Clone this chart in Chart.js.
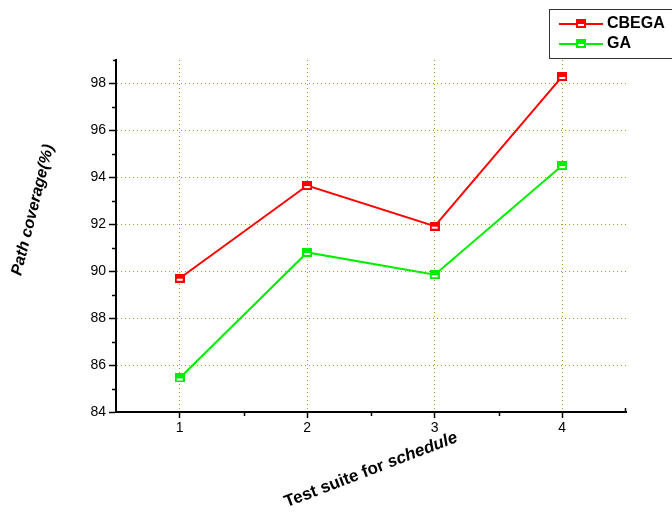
<!DOCTYPE html>
<html>
<head>
<meta charset="utf-8">
<script src="https://cdn.jsdelivr.net/npm/chart.js@4"></script>
<style>
  html, body { margin: 0; padding: 0; background: #fff; }
  #wrap { width: 672px; height: 518px; }
</style>
</head>
<body>
<div id="wrap"><canvas id="myChart" width="672" height="518"></canvas></div>
<script>
// data
const suites = [1, 2, 3, 4];
const cbega = [89.7, 93.65, 91.92, 98.3];
const ga = [85.45, 90.8, 89.85, 94.5];
const seriesNames = ['CBEGA', 'GA'];
const yTitle = 'Path coverage(%)';
const xTitle = 'Test suite for ';
const xTitleItalic = 'schedule';

const gridColor = '#a0a020';
const font = '"Liberation Sans", Arial, sans-serif';

// half filled square marker
const makeMarker = (color) => {
    let c = document.createElement('canvas');
    c.width = 10;
    c.height = 9;
    let g = c.getContext('2d');
    g.fillStyle = color;
    g.fillRect(0, 0, 10, 9);
    g.fillStyle = '#fff';
    g.fillRect(2, 5, 6, 2);
    return c;
};

const toPoints = (vals) => suites.map((s, i) => ({ x: s, y: vals[i] }));

const extras = {
    id: 'extras',
    afterDraw(chart) {
        const c = chart.ctx;
        const xs = chart.scales.x, ys = chart.scales.y;
        c.save();
        c.strokeStyle = '#000';
        c.lineWidth = 1.5;
        // minor ticks y
        for (let v = 85; v < 99; v += 2) {
            let y = Math.round(ys.getPixelForValue(v)) + 0.5;
            c.beginPath();
            c.moveTo(xs.left - 4, y);
            c.lineTo(xs.left, y);
            c.stroke();
        }
        // top cap of y axis
        c.beginPath();
        c.moveTo(xs.left - 3, ys.top + 0.5);
        c.lineTo(xs.left, ys.top + 0.5);
        c.stroke();
        // minor ticks x
        for (let v = 1.5; v < 4.5; v += 1) {
            let x = Math.round(xs.getPixelForValue(v)) + 0.5;
            c.beginPath();
            c.moveTo(x, ys.bottom);
            c.lineTo(x, ys.bottom + 4);
            c.stroke();
        }
        c.beginPath();
        c.moveTo(xs.right - 0.5, ys.bottom);
        c.lineTo(xs.right - 0.5, ys.bottom - 4);
        c.stroke();

        // axis titles
        c.fillStyle = '#000';
        c.save();
        c.translate(371, 470);
        c.rotate(-21 * Math.PI / 180);
        c.font = 'bold 17px ' + font;
        let w1 = c.measureText(xTitle).width;
        c.font = 'italic bold 17px ' + font;
        let w2 = c.measureText(xTitleItalic).width;
        let x0 = -(w1 + w2) / 2;
        c.textBaseline = 'middle';
        c.textAlign = 'left';
        c.font = 'bold 17px ' + font;
        c.fillText(xTitle, x0, 0);
        c.font = 'italic bold 17px ' + font;
        c.fillText(xTitleItalic, x0 + w1, 0);
        c.restore();

        c.save();
        c.translate(33, 210);
        c.rotate(-76 * Math.PI / 180);
        c.font = 'italic bold 16px ' + font;
        c.textAlign = 'center';
        c.textBaseline = 'middle';
        c.fillText(yTitle, 0, 0);
        c.restore();

        // legend box
        c.fillStyle = '#fff';
        c.fillRect(549.5, 9.5, 130, 49);
        c.strokeStyle = '#333';
        c.lineWidth = 1;
        c.strokeRect(549.5, 9.5, 130, 49);
        chart.data.datasets.forEach((ds, i) => {
            let y = 24 + i * 20;
            c.strokeStyle = ds.borderColor;
            c.lineWidth = 2;
            c.beginPath();
            c.moveTo(559, y);
            c.lineTo(603, y);
            c.stroke();
            c.drawImage(ds.pointStyle, 576, y - 5);
            c.fillStyle = '#000';
            c.font = 'bold 16px ' + font;
            c.textAlign = 'left';
            c.textBaseline = 'middle';
            c.fillText(ds.label, 607, y);
        });
        c.restore();
    }
};

const ctx = document.getElementById('myChart').getContext('2d');
new Chart(ctx, {
    type: 'line',
    data: {
        datasets: [{
            label: seriesNames[0],
            data: toPoints(cbega),
            borderColor: '#ff0000',
            backgroundColor: '#ff0000',
            borderWidth: 2,
            pointStyle: makeMarker('#ff0000'),
            fill: false
        }, {
            label: seriesNames[1],
            data: toPoints(ga),
            borderColor: '#00ee00',
            backgroundColor: '#00ee00',
            borderWidth: 2,
            pointStyle: makeMarker('#00ee00'),
            fill: false
        }]
    },
    options: {
        responsive: false,
        animation: false,
        layout: { padding: { left: 0, right: 46, top: 60, bottom: 0 } },
        plugins: {
            legend: { display: false },
            tooltip: { enabled: false }
        },
        scales: {
            x: {
                type: 'linear',
                min: 0.5,
                max: 4.5,
                afterFit: (s) => { s.height = 106; },
                ticks: {
                    stepSize: 0.5,
                    includeBounds: false,
                    color: '#000',
                    font: { family: font, size: 14 },
                    padding: 2,
                    maxRotation: 0,
                    callback: (v) => Number.isInteger(v) ? String(v) : ''
                },
                grid: {
                    color: (c) => Number.isInteger(c.tick && c.tick.value) ? gridColor : 'rgba(0,0,0,0)',
                    tickColor: (c) => Number.isInteger(c.tick && c.tick.value) ? '#000' : 'rgba(0,0,0,0)',
                    tickLength: 6,
                    lineWidth: 1,
                    tickWidth: 1.5
                },
                border: { color: '#000', width: 2, dash: [1, 3] }
            },
            y: {
                min: 84,
                max: 99,
                afterFit: (s) => { s.width = 116; },
                ticks: {
                    stepSize: 2,
                    includeBounds: false,
                    color: '#000',
                    font: { family: font, size: 14 },
                    padding: 3
                },
                grid: {
                    color: gridColor,
                    tickColor: '#000',
                    tickLength: 7,
                    lineWidth: 1,
                    tickWidth: 1.5
                },
                border: { color: '#000', width: 2, dash: [1, 3] }
            }
        }
    },
    plugins: [extras]
});
</script>
</body>
</html>
